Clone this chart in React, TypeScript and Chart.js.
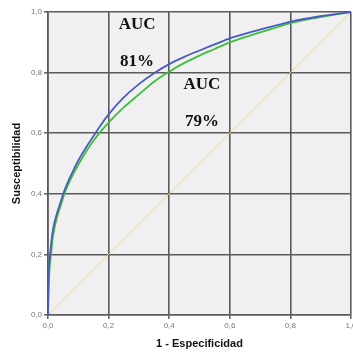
import React, { useEffect, useRef } from "react";
import { Chart, registerables } from "chart.js";

Chart.register(...registerables);

const blueFpr = [0, 0.001, 0.003, 0.007, 0.012, 0.018, 0.028, 0.04, 0.052, 0.067, 0.08, 0.1, 0.125, 0.15, 0.175, 0.2, 0.25, 0.3, 0.35, 0.4, 0.45, 0.5, 0.55, 0.6, 0.678, 0.75, 0.804, 0.898, 0.95, 1];
const blueTpr = [0, 0.08, 0.15, 0.2, 0.25, 0.29, 0.33, 0.368, 0.405, 0.442, 0.47, 0.51, 0.552, 0.59, 0.628, 0.662, 0.718, 0.762, 0.798, 0.828, 0.852, 0.873, 0.893, 0.913, 0.936, 0.955, 0.969, 0.986, 0.993, 1];
const greenFpr = [0, 0.002, 0.005, 0.01, 0.015, 0.022, 0.032, 0.044, 0.056, 0.07, 0.085, 0.1, 0.125, 0.15, 0.175, 0.2, 0.25, 0.3, 0.35, 0.4, 0.45, 0.5, 0.55, 0.6, 0.678, 0.75, 0.804, 0.898, 0.95, 1];
const greenTpr = [0, 0.08, 0.15, 0.2, 0.25, 0.29, 0.33, 0.368, 0.405, 0.438, 0.468, 0.496, 0.538, 0.575, 0.607, 0.635, 0.685, 0.728, 0.77, 0.803, 0.832, 0.856, 0.878, 0.9, 0.926, 0.948, 0.964, 0.983, 0.992, 1];
const refLine = [0, 1];
const tickValues = [0, 0.2, 0.4, 0.6, 0.8, 1];
const annotations = [
  { text: "AUC", x: 0.294, y: 0.957 },
  { text: "81%", x: 0.294, y: 0.835 },
  { text: "AUC", x: 0.508, y: 0.759 },
  { text: "79%", x: 0.508, y: 0.637 },
];

const fmt = (v: number) => v.toFixed(1).replace(".", ",");

export default function App() {
  const ref = useRef<HTMLCanvasElement | null>(null);
  useEffect(() => {
    document.body.style.margin = "0";
    document.body.style.overflow = "hidden";
    const bgPlugin = {
      id: "bg",
      beforeDraw(chart: any) {
        const { ctx, chartArea: a } = chart;
        ctx.save();
        ctx.fillStyle = "#ffffff";
        ctx.fillRect(0, 0, chart.width, chart.height);
        ctx.fillStyle = "#f0f0f0";
        ctx.fillRect(a.left, a.top, a.right - a.left, a.bottom - a.top);
        ctx.restore();
      },
      afterDatasetsDraw(chart: any) {
        const { ctx } = chart;
        const xs = chart.scales.x;
        const ys = chart.scales.y;
        ctx.save();
        ctx.fillStyle = "#111111";
        ctx.font = "bold 17px 'Liberation Serif'";
        ctx.textAlign = "center";
        ctx.textBaseline = "middle";
        annotations.forEach((a) => {
          ctx.fillText(a.text, xs.getPixelForValue(a.x), ys.getPixelForValue(a.y));
        });
        ctx.restore();
      },
    };
    const lineOpts = {
      showLine: true,
      pointRadius: 0,
      borderWidth: 1.8,
      cubicInterpolationMode: "monotone",
    };
    const chart = new Chart(ref.current!, {
      type: "scatter",
      data: {
        datasets: [
          {
            data: refLine.map((v) => ({ x: v, y: v })),
            showLine: true,
            borderColor: "#ded6ae",
            borderWidth: 1,
            pointRadius: 0,
            order: 3,
          },
          {
            ...lineOpts,
            data: greenFpr.map((v, i) => ({ x: v, y: greenTpr[i] })),
            borderColor: "#3cc03c",
            order: 2,
          },
          {
            ...lineOpts,
            data: blueFpr.map((v, i) => ({ x: v, y: blueTpr[i] })),
            borderColor: "#4a5cc4",
            order: 1,
          },
        ],
      },
      options: {
        animation: false,
        responsive: false,
        layout: { padding: { top: 12, right: 2, left: 0, bottom: 0 } },
        plugins: { legend: { display: false }, tooltip: { enabled: false } },
        scales: {
          x: {
            type: "linear",
            min: 0,
            max: 1,
            afterBuildTicks: (s: any) => {
              s.ticks = tickValues.map((v) => ({ value: v }));
            },
            afterFit: (s: any) => {
              s.height = 39;
              s.paddingRight = 0;
              s.paddingLeft = 0;
            },
            ticks: {
              callback: (v: any) => fmt(Number(v)),
              color: "#777777",
              font: { family: "'Liberation Sans'", size: 8 },
              padding: 2,
              maxRotation: 0,
            },
            grid: { color: "#5a5a5a", lineWidth: 1.6, tickLength: 4, tickColor: "#666666" },
            border: { color: "#5a5a5a", width: 1.6 },
            title: {
              display: true,
              text: "1 - Especificidad",
              color: "#111111",
              font: { family: "'Liberation Sans'", size: 11, weight: "bold" },
              padding: { top: 4, bottom: 3 },
            },
          },
          y: {
            type: "linear",
            min: 0,
            max: 1,
            afterBuildTicks: (s: any) => {
              s.ticks = tickValues.map((v) => ({ value: v }));
            },
            afterFit: (s: any) => {
              s.width = 48;
              s.paddingTop = 0;
              s.paddingBottom = 0;
            },
            ticks: {
              callback: (v: any) => fmt(Number(v)),
              color: "#777777",
              font: { family: "'Liberation Sans'", size: 8 },
              padding: 2,
            },
            grid: { color: "#5a5a5a", lineWidth: 1.6, tickLength: 4, tickColor: "#666666" },
            border: { color: "#5a5a5a", width: 1.6 },
            title: {
              display: true,
              text: "Susceptibilidad",
              color: "#111111",
              font: { family: "'Liberation Sans'", size: 11, weight: "bold" },
              padding: { top: 10, bottom: 4 },
            },
          },
        },
      },
      plugins: [bgPlugin],
    } as any);
    return () => chart.destroy();
  }, []);
  return <canvas ref={ref} width={353} height={354} style={{ display: "block" }} />;
}
